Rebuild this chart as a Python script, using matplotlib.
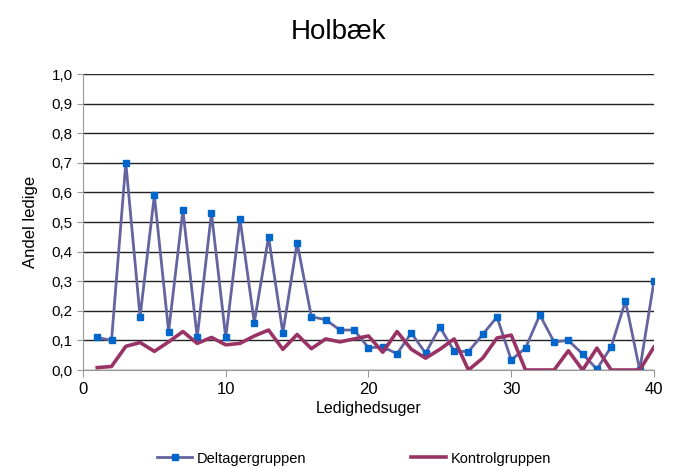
import matplotlib.pyplot as plt
from matplotlib.ticker import FuncFormatter

plt.rcParams["font.family"] = ["Liberation Sans", "DejaVu Sans"]

weeks = list(range(1, 41))
deltager = [0.11, 0.10, 0.70, 0.18, 0.59, 0.13, 0.54, 0.11, 0.53, 0.11,
            0.51, 0.16, 0.45, 0.125, 0.43, 0.18, 0.17, 0.135, 0.135, 0.075,
            0.078, 0.055, 0.125, 0.057, 0.145, 0.064, 0.062, 0.12, 0.179, 0.034,
            0.074, 0.186, 0.095, 0.10, 0.054, 0.003, 0.078, 0.233, 0.0, 0.30]
kontrol = [0.008, 0.012, 0.08, 0.093, 0.063, 0.095, 0.13, 0.09, 0.11, 0.085,
           0.09, 0.115, 0.135, 0.07, 0.12, 0.072, 0.105, 0.095, 0.105, 0.115,
           0.06, 0.13, 0.07, 0.04, 0.07, 0.105, 0.0, 0.04, 0.108, 0.118,
           0.0, 0.0, 0.0, 0.065, 0.0, 0.074, 0.0, 0.0, 0.0, 0.078]

fig = plt.figure(figsize=(6.78, 4.67), dpi=100)
ax = fig.add_axes([0.1224, 0.2077, 0.8422, 0.6338])

ax.plot(weeks, deltager, color="#6464A0", lw=2, marker="s", markersize=5,
        markerfacecolor="#0066CC", markeredgecolor="#0066CC", label="Deltagergruppen")
ax.plot(weeks, kontrol, color="#993366", lw=2.6, label="Kontrolgruppen")

ax.set_xlim(0, 40)
ax.set_ylim(0, 1.0)
ax.set_xticks([0, 10, 20, 30, 40])
ax.set_yticks([i / 10 for i in range(11)])
ax.yaxis.set_major_formatter(FuncFormatter(lambda v, p: f"{v:.1f}".replace(".", ",")))
ax.grid(axis="y", color="#222222", lw=1)
ax.set_axisbelow(True)
for s in ["top", "right"]:
    ax.spines[s].set_visible(False)
for s in ["left", "bottom"]:
    ax.spines[s].set_color("#999999")
ax.tick_params(axis="x", labelsize=12, length=5, color="#999999")
ax.tick_params(axis="y", labelsize=11, length=4, color="#999999")

ax.set_xlabel("Ledighedsuger", fontsize=11.5, labelpad=3)
ax.set_ylabel("Andel ledige", fontsize=12, labelpad=10)
fig.suptitle("Holbæk", fontsize=20, y=0.96)

fig.legend(loc="lower center", ncol=2, frameon=False, fontsize=10.5,
           columnspacing=7.2, handlelength=2.4, handletextpad=0.3,
           bbox_to_anchor=(0.522, -0.025))

plt.savefig("out.png")
